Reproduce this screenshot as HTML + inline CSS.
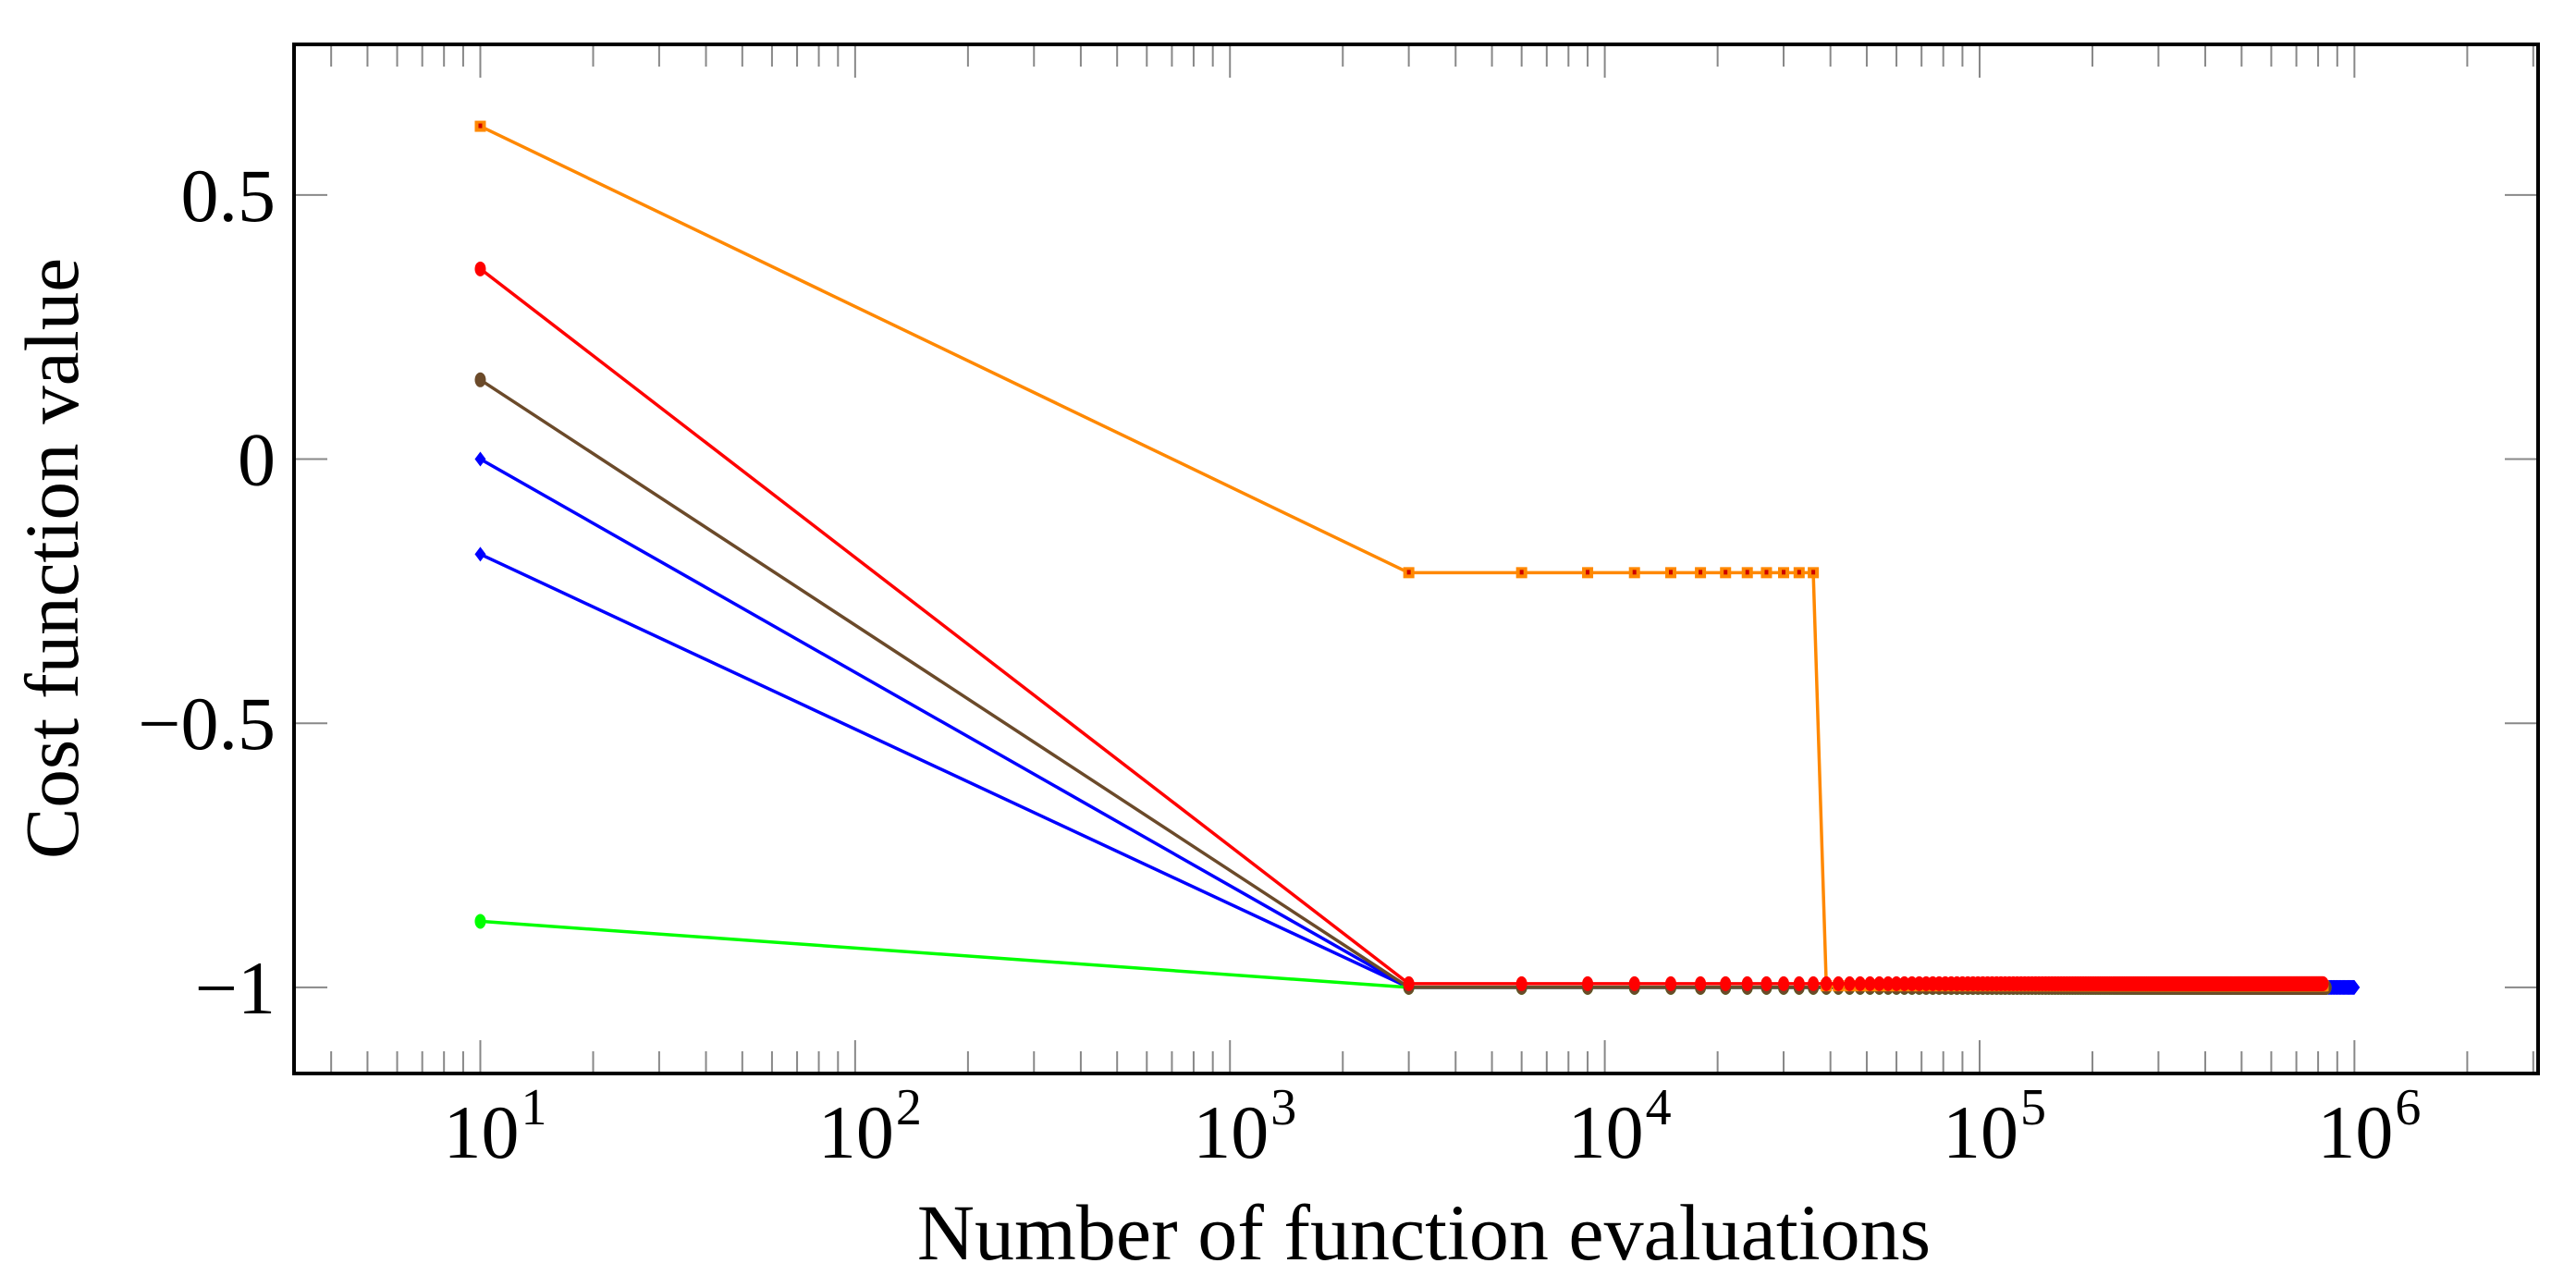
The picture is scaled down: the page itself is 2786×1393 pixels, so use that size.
<!DOCTYPE html>
<html><head><meta charset="utf-8"><style>
html,body{margin:0;padding:0;background:#fff;}
svg{display:block;font-family:"Liberation Serif",serif;}
</style></head><body>
<svg id="chart" width="2786" height="1393" viewBox="0 0 2786 1393" xmlns="http://www.w3.org/2000/svg">
<g id="grid-ticks"></g>
<g id="series"></g>
<rect x="318" y="48" width="2427" height="1113" fill="none" stroke="#000" stroke-width="4"/>
<g id="labels" fill="#000"></g>
<text x="1540" y="1362" font-size="86" text-anchor="middle">Number of function evaluations</text>
<text x="0" y="0" font-size="83" text-anchor="middle" transform="translate(84,604) rotate(-90)">Cost function value</text>
</svg>
<script>
// ---- data ----
const yTicks = [0.5, 0, -0.5, -1];
const yTickLabels = ["0.5", "0", "\u22120.5", "\u22121"];
const xTickExps = [1, 2, 3, 4, 5, 6];
const evalStep = 3000;
// series: start value at 10 evals, then values at multiples of evalStep given as [value, count] runs
const blueAStart = 0.0;   const blueARuns = [[-1.0, 333]];
const blueBStart = -0.18; const blueBRuns = [[-1.0, 333]];
const brownStart = 0.15;  const brownRuns = [[-1.0, 280]];
const greenStart = -0.875; const greenRuns = [[-1.0, 280]];
const orangeStart = 0.63; const orangeRuns = [[-0.215, 12], [-0.997, 263]];
const redStart = 0.36;    const redRuns = [[-0.993, 275]];

// ---- axes ----
const L = 318, R = 2745, T = 48, B = 1161;
const xMinLog = 0.503, xMaxLog = 6.49;
const yMin = -1.163, yMax = 0.785;
const X = v => L + (Math.log10(v) - xMinLog) / (xMaxLog - xMinLog) * (R - L);
const Y = v => T + (yMax - v) / (yMax - yMin) * (B - T);
const NS = "http://www.w3.org/2000/svg";
function mk(tag, attrs, parent) {
  const e = document.createElementNS(NS, tag);
  for (const k in attrs) e.setAttribute(k, attrs[k]);
  parent.appendChild(e); return e;
}
const tg = document.getElementById('grid-ticks');
const lg = document.getElementById('labels');
for (let e = 0; e <= 6; e++) {
  for (let m = 1; m <= 9; m++) {
    const v = m * Math.pow(10, e);
    const lv = Math.log10(v);
    if (lv < xMinLog || lv > xMaxLog) continue;
    const x = X(v); const len = m === 1 ? 36 : 24;
    const t1 = mk('line', {x1: x, x2: x, y1: B, y2: B - len, stroke: '#888', 'stroke-width': 2}, tg);
    
    
    const t2 = mk('line', {x1: x, x2: x, y1: T, y2: T + len, stroke: '#888', 'stroke-width': 2}, tg);
    
    
  }
}
xTickExps.forEach(e => {
  const x = X(Math.pow(10, e));
  const t = mk('text', {x: x + 16, y: 1252, 'text-anchor': 'middle', 'font-size': 82}, lg);
  
  
  t.textContent = '10';
  const s = mk('tspan', {dx: 2, dy: -36, 'font-size': 56}, t);
  s.textContent = String(e);
});
yTicks.forEach((v, i) => {
  const y = Y(v);
  const a = mk('line', {x1: L, x2: L + 36, y1: y, y2: y, stroke: '#888', 'stroke-width': 2}, tg);
  
  
  const b = mk('line', {x1: R, x2: R - 36, y1: y, y2: y, stroke: '#888', 'stroke-width': 2}, tg);
  
  
  const t = mk('text', {x: 298, y: y + 28, 'text-anchor': 'end', 'font-size': 82}, lg);
  
  
  t.textContent = yTickLabels[i];
});

// ---- series ----
const sg = document.getElementById('series');
function points(start, runs) {
  const pts = [[10, start]]; let k = 1;
  runs.forEach(([val, cnt]) => { for (let i = 0; i < cnt; i++) { pts.push([k * evalStep, val]); k++; } });
  return pts;
}
function marker(type, x, y, color, g) {
  let e;
  if (type === 'square') {
    e = mk('rect', {x: x - 6, y: y - 6, width: 12, height: 12, fill: color}, g);
    mk('rect', {x: x - 2, y: y - 3, width: 4, height: 5, fill: '#c00'}, g);
  } else if (type === 'diamond') {
    e = mk('path', {d: `M${x} ${y-8}L${x+6} ${y}L${x} ${y+8}L${x-6} ${y}Z`, fill: color}, g);
  } else {
    e = mk('ellipse', {cx: x, cy: y, rx: 6, ry: 8, fill: color}, g);
  }
  return e;
}
function drawSeries(name, start, runs, color, type) {
  const g = mk('g', {}, sg);
  
  
  const pts = points(start, runs);
  const d = pts.map((p, i) => (i ? 'L' : 'M') + X(p[0]).toFixed(1) + ' ' + Y(p[1]).toFixed(1)).join('');
  const path = mk('path', {d: d, fill: 'none', stroke: color, 'stroke-width': 3.5, 'stroke-linejoin': 'round'}, g);
  
  
  pts.forEach(p => {
    const m = marker(type, X(p[0]), Y(p[1]), color, g);
    
    
  });
}
drawSeries('series-blue-a', blueAStart, blueARuns, '#0000ff', 'diamond');
drawSeries('series-blue-b', blueBStart, blueBRuns, '#0000ff', 'diamond');
drawSeries('series-green', greenStart, greenRuns, '#00ff00', 'circle');
drawSeries('series-brown', brownStart, brownRuns, '#6b4a2a', 'circle');
drawSeries('series-orange', orangeStart, orangeRuns, '#ff8800', 'square');
drawSeries('series-red', redStart, redRuns, '#ff0000', 'circle');
</script>
</body></html>
